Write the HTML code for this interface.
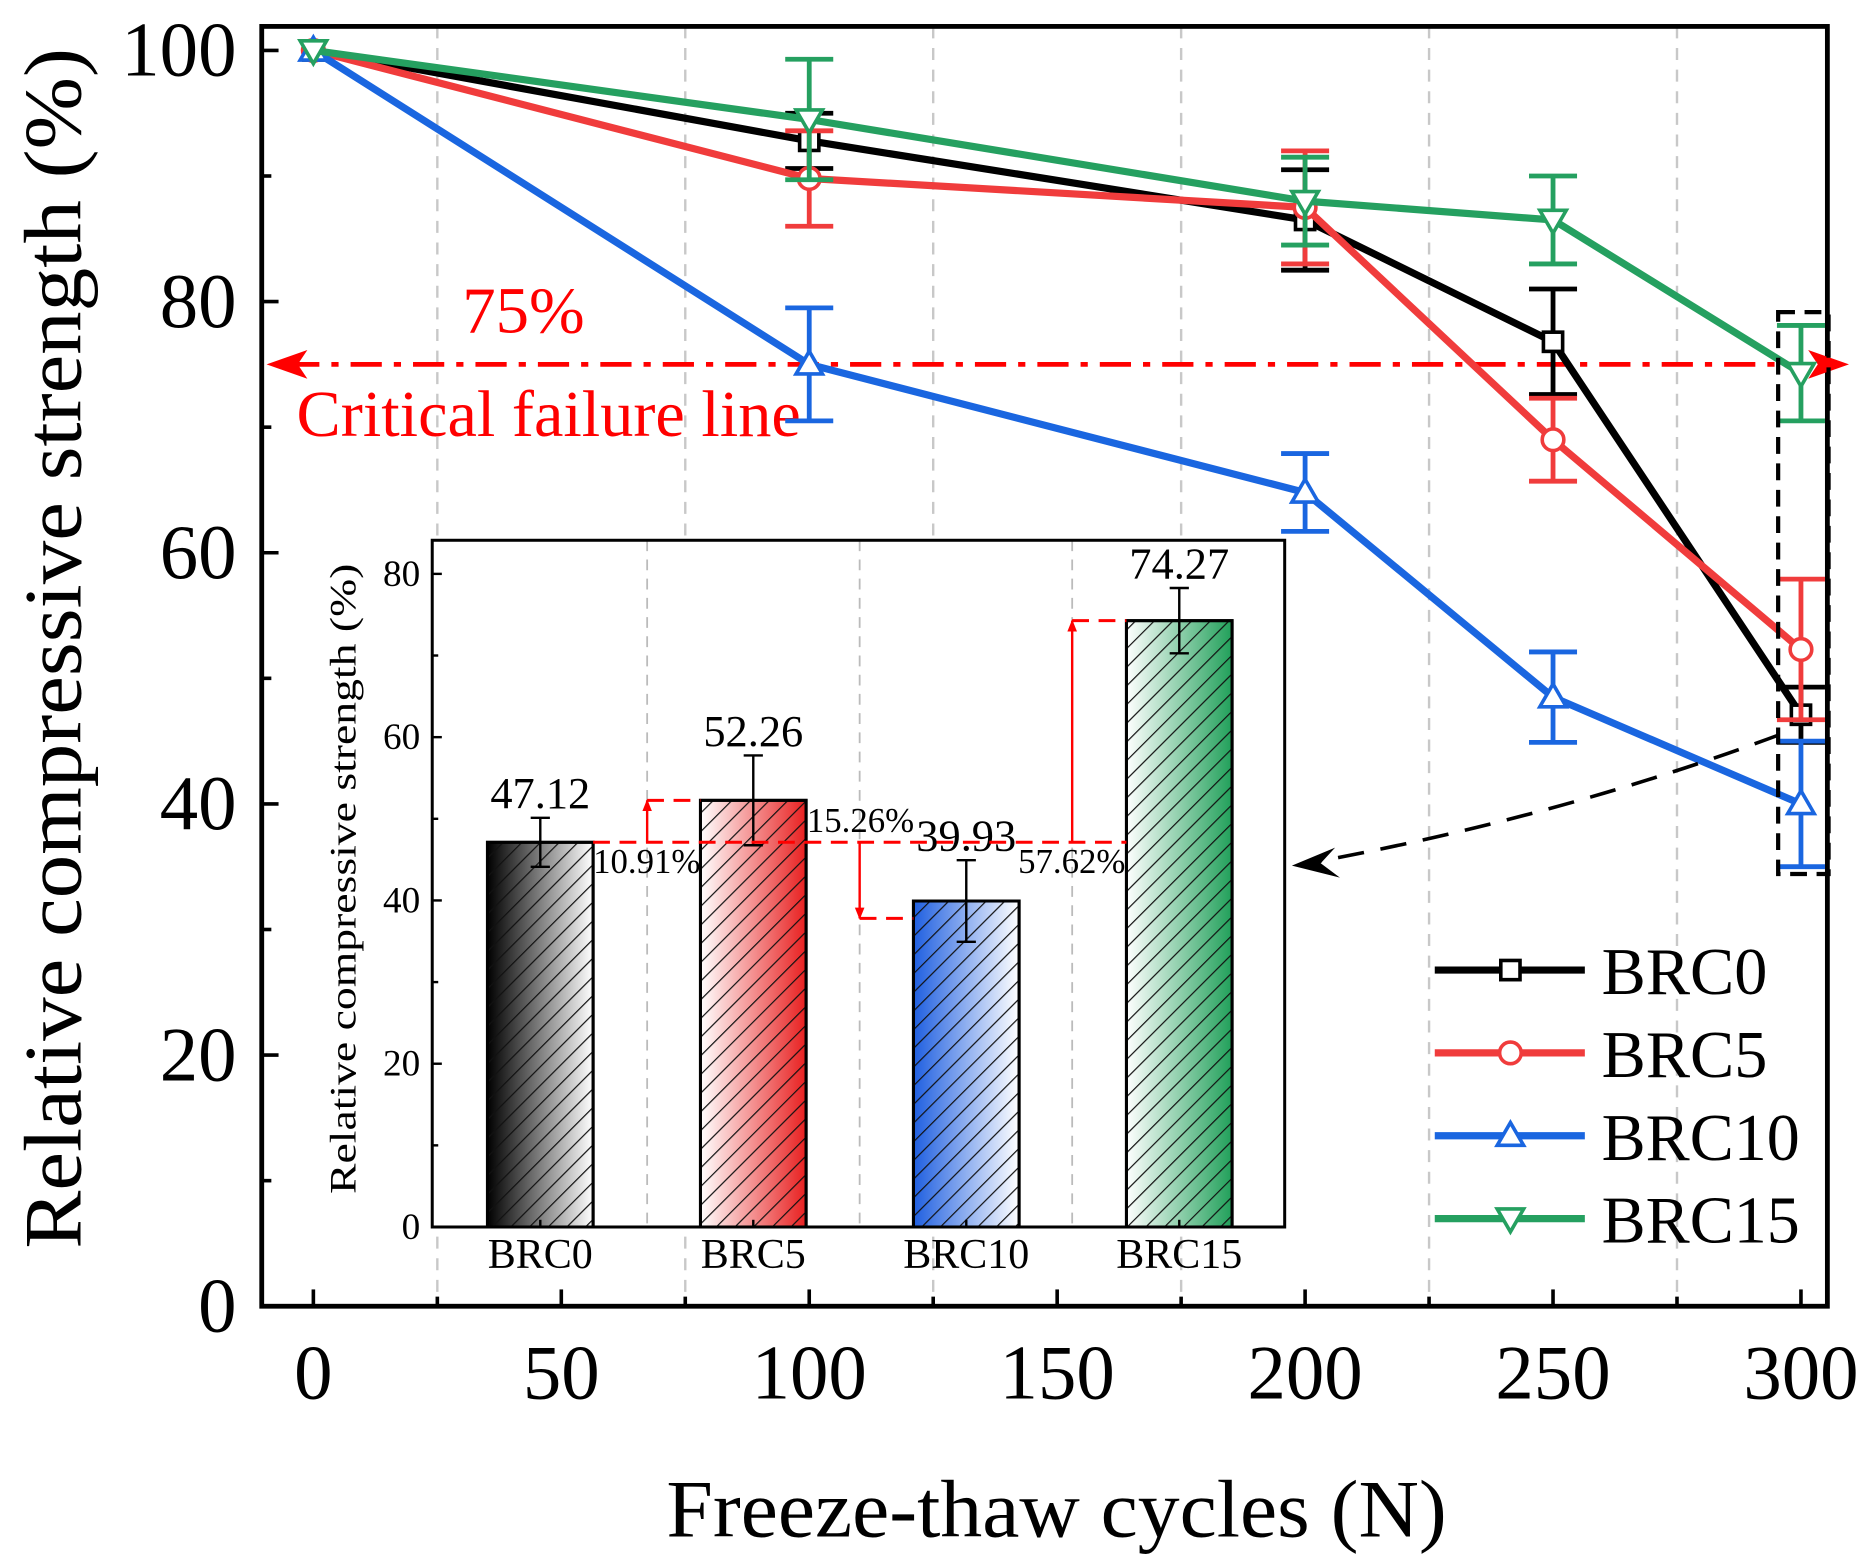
<!DOCTYPE html>
<html><head><meta charset="utf-8"><style>
html,body{margin:0;padding:0;background:#fff;}
svg{display:block;font-family:"Liberation Serif",serif;}
</style></head><body>
<svg id="chart" width="1873" height="1564" viewBox="0 0 1560 1302.7" preserveAspectRatio="none" xmlns="http://www.w3.org/2000/svg">
<defs>
<linearGradient id="g0" x1="0" x2="1"><stop offset="0" stop-color="#000"/><stop offset="1" stop-color="#fff"/></linearGradient>
<linearGradient id="g1" x1="0" x2="1"><stop offset="0" stop-color="#fff"/><stop offset="1" stop-color="#e82020"/></linearGradient>
<linearGradient id="g2" x1="0" x2="1"><stop offset="0" stop-color="#1f5fe0"/><stop offset="1" stop-color="#fff"/></linearGradient>
<linearGradient id="g3" x1="0" x2="1"><stop offset="0" stop-color="#fff"/><stop offset="1" stop-color="#21a05a"/></linearGradient>
<pattern id="hatch" width="11" height="11" patternUnits="userSpaceOnUse" patternTransform="rotate(45)"><line x1="0" y1="0" x2="0" y2="11" stroke="#111" stroke-width="2"/></pattern>
<marker id="arrR" markerWidth="10" markerHeight="10" refX="9" refY="5" orient="auto" markerUnits="userSpaceOnUse"><path d="M0,1 L10,5 L0,9 Z" fill="red"/></marker>
</defs>
<g id="main"></g>
<g id="inset"></g>
</svg>
<script>
const cycles=[0,100,200,250,300];
const brc0=[100,92.8,86.5,76.8,47.1];
const brc0Err=[0,2.2,4,4.2,2.2];
const brc5=[100,89.8,87.5,69,52.3];
const brc5Err=[0,3.8,4.5,3.3,5.6];
const brc10=[100,75,64.8,48.5,40];
const brc10Err=[0,4.5,3.1,3.6,5];
const brc15=[100,94.5,88,86.5,74.3];
const brc15Err=[0,4.8,3.5,3.5,3.8];
const xTicks=[0,50,100,150,200,250,300];
const yTicks=[0,20,40,60,80,100];
const barCats=['BRC0','BRC5','BRC10','BRC15'];
const barVals=[47.12,52.26,39.93,74.27];
const barErr=[3,5.5,5,4];
const barPct=['10.91%','15.26%','','57.62%'];
const insetTicks=[0,20,40,60,80];
const critical=75;

const NS='http://www.w3.org/2000/svg';
function mk(parent,tag,attrs,text){const e=document.createElementNS(NS,tag);for(const k in attrs)e.setAttribute(k,attrs[k]);if(text!==undefined)e.textContent=text;parent.appendChild(e);return e;}
const X=v=>261+v*(1500-261)/300;
const Y=v=>1088-v*(1088-42)/100;
const main=document.getElementById('main');
const L=218,R=1522,T=22,B=1088;
[25,75,125,175,225,275].forEach(v=>{const g=mk(main,'line',{x1:X(v),x2:X(v),y1:T,y2:B,stroke:'#c8c8c8','stroke-width':2,'stroke-dasharray':'10,8'});

});
const fr=mk(main,'rect',{x:L,y:T,width:R-L,height:B-T,fill:'none',stroke:'#000','stroke-width':4});


xTicks.forEach(v=>{mk(main,'line',{x1:X(v),x2:X(v),y1:B,y2:B-14,stroke:'#000','stroke-width':3});
const t=mk(main,'text',{x:X(v),y:1165,'font-size':64,'text-anchor':'middle'},v);

});
[25,75,125,175,225,275].forEach(v=>mk(main,'line',{x1:X(v),x2:X(v),y1:B,y2:B-8,stroke:'#000','stroke-width':3}));
yTicks.forEach(v=>{mk(main,'line',{x1:L,x2:L+14,y1:Y(v),y2:Y(v),stroke:'#000','stroke-width':3});
const t=mk(main,'text',{x:197,y:Y(v)+21,'font-size':64,'text-anchor':'end'},v);

});
[10,30,50,70,90].forEach(v=>mk(main,'line',{x1:L,x2:L+8,y1:Y(v),y2:Y(v),stroke:'#000','stroke-width':3}));
const xt=mk(main,'text',{x:880,y:1280,'font-size':68,'text-anchor':'middle',textLength:650,lengthAdjust:'spacingAndGlyphs'},'Freeze-thaw cycles (N)');


const yt=mk(main,'text',{x:0,y:0,'font-size':68,'text-anchor':'middle',textLength:1000,lengthAdjust:'spacingAndGlyphs',transform:'translate(67,540) rotate(-90)'},'Relative compressive strength (%)');


const cy=Y(critical);
const cl=mk(main,'line',{x1:240,x2:1505,y1:cy,y2:cy,stroke:'red','stroke-width':4,'stroke-dasharray':'26,10,6,10'});


mk(main,'path',{d:`M222,${cy} L256,${cy-12} L248,${cy} L256,${cy+12} Z`,fill:'red'});
mk(main,'path',{d:`M1540,${cy} L1506,${cy-12} L1514,${cy} L1506,${cy+12} Z`,fill:'red'});
const t75=mk(main,'text',{x:385,y:277,'font-size':55,fill:'red',textLength:102,lengthAdjust:'spacingAndGlyphs'},'75%');


const tcf=mk(main,'text',{x:247,y:363,'font-size':55,fill:'red',textLength:420,lengthAdjust:'spacingAndGlyphs'},'Critical failure line');


const series=[[brc0,brc0Err,'#000','sq','BRC0'],[brc5,brc5Err,'#f03c3c','ci','BRC5'],[brc10,brc10Err,'#1a66e0','up','BRC10'],[brc15,brc15Err,'#25a060','dn','BRC15']];
function marker(g,x,y,type,col){
 let e;
 if(type==='sq')e=mk(g,'rect',{x:x-8,y:y-8,width:16,height:16,fill:'#fff',stroke:col,'stroke-width':3});
 else if(type==='ci')e=mk(g,'circle',{cx:x,cy:y,r:9,fill:'#fff',stroke:col,'stroke-width':3});
 else if(type==='up')e=mk(g,'path',{d:`M${x},${y-11} L${x+11},${y+8} L${x-11},${y+8} Z`,fill:'#fff',stroke:col,'stroke-width':3});
 else e=mk(g,'path',{d:`M${x},${y+11} L${x+11},${y-8} L${x-11},${y-8} Z`,fill:'#fff',stroke:col,'stroke-width':3});
 return e;
}
series.forEach(([vals,errs,col,type,name])=>{
 const g=mk(main,'g',{});
 
 
 const pl=mk(g,'polyline',{points:vals.map((v,i)=>X(cycles[i])+','+Y(v)).join(' '),fill:'none',stroke:col,'stroke-width':6,'stroke-linejoin':'round'});
 
 
 vals.forEach((v,i)=>{const x=X(cycles[i]);
  if(errs[i]>0){const hi=Y(v+errs[i]),lo=Y(v-errs[i]);
   const eb=mk(g,'path',{d:`M${x},${hi} V${lo} M${x-20},${hi} H${x+20} M${x-20},${lo} H${x+20}`,stroke:col,'stroke-width':4,fill:'none'});
   
   }
 });
 vals.forEach((v,i)=>{const m=marker(g,X(cycles[i]),Y(v),type,col);
  
  });
});
const db=mk(main,'rect',{x:1481,y:260,width:42,height:468,fill:'none',stroke:'#000','stroke-width':3.5,'stroke-dasharray':'14,8'});


const ca=mk(main,'path',{d:'M1482,612 Q1300,680 1095,718',fill:'none',stroke:'#000','stroke-width':3,'stroke-dasharray':'22,14'});


mk(main,'path',{d:'M1076,721 L1112,706 L1100,719 L1116,731 Z',fill:'#000'});
const leg=mk(main,'g',{});


const legW=[138,138,165,165];
series.forEach(([v,e,col,type,name],i)=>{const y=808+i*69;
 const g=mk(leg,'g',{});
 
 
 mk(g,'line',{x1:1195,x2:1320,y1:y,y2:y,stroke:col,'stroke-width':6});
 marker(g,1258,y,type,col);
 mk(g,'text',{x:1334,y:y+20,'font-size':56,textLength:legW[i],lengthAdjust:'spacingAndGlyphs'},name);
});
const ins=document.getElementById('inset');
const IL=360,IR=1070,IT=450,IB=1022;
const IY=v=>IB-v*(IB-478)/80;
const IX=i=>450+i*177.4;
mk(ins,'rect',{x:IL,y:IT,width:IR-IL,height:IB-IT,fill:'#fff',stroke:'none'});
[539,716,893].forEach(x=>{const g=mk(ins,'line',{x1:x,x2:x,y1:IT,y2:IB,stroke:'#bbb','stroke-width':1.5,'stroke-dasharray':'9,7'});

});
const iframe=mk(ins,'rect',{x:IL,y:IT,width:IR-IL,height:IB-IT,fill:'none',stroke:'#000','stroke-width':2.5});


insetTicks.forEach(v=>{mk(ins,'line',{x1:IL,x2:IL+8,y1:IY(v),y2:IY(v),stroke:'#000','stroke-width':2});
const t=mk(ins,'text',{x:350,y:IY(v)+10,'font-size':31,'text-anchor':'end'},v);

});
[10,30,50,70].forEach(v=>mk(ins,'line',{x1:IL,x2:IL+5,y1:IY(v),y2:IY(v),stroke:'#000','stroke-width':2}));
const iyt=mk(ins,'text',{x:0,y:0,'font-size':31,'text-anchor':'middle',textLength:525,lengthAdjust:'spacingAndGlyphs',transform:'translate(296,732) rotate(-90)'},'Relative compressive strength (%)');


const grads=['g0','g1','g2','g3'];
barVals.forEach((v,i)=>{const cx=IX(i),w=88,top=IY(v);
 const b=mk(ins,'rect',{x:cx-w/2,y:top,width:w,height:IB-top,fill:'url(#'+grads[i]+')',stroke:'#000','stroke-width':2.5});
 
 
 mk(ins,'rect',{x:cx-w/2,y:top,width:w,height:IB-top,fill:'url(#hatch)',stroke:'#000','stroke-width':2.5});
 const hi=IY(v+barErr[i]),lo=IY(v-barErr[i]);
 const eb=mk(ins,'path',{d:`M${cx},${hi} V${lo} M${cx-8},${hi} H${cx+8} M${cx-8},${lo} H${cx+8}`,stroke:'#000','stroke-width':2,fill:'none'});
 
 
 const vl=mk(ins,'text',{x:cx,y:hi-8,'font-size':37,'text-anchor':'middle'},v.toFixed(2));
 
 
 const cl=mk(ins,'text',{x:cx,y:1056,'font-size':35,'text-anchor':'middle'},barCats[i]);
 
 
 mk(ins,'line',{x1:cx,x2:cx,y1:IB,y2:IB-6,stroke:'#000','stroke-width':2});
});
const by=IY(barVals[0]);
const ra=mk(ins,'g',{});


mk(ra,'line',{x1:IX(0)+44,x2:IX(3)-44,y1:by,y2:by,stroke:'red','stroke-width':2.5,'stroke-dasharray':'14,8'});
const ann=[[539,barVals[1],IX(1)-44],[716,37.8,IX(2)-44],[893,barVals[3],IX(3)-44]];
ann.forEach(([x,v,x2])=>{const y=IY(v);
 mk(ra,'line',{x1:x,x2:x2,y1:y,y2:y,stroke:'red','stroke-width':2.5,'stroke-dasharray':'14,8'});
 mk(ra,'line',{x1:x,x2:x,y1:by,y2:y,stroke:'red','stroke-width':2,'marker-end':'url(#arrR)'});
});
[[494,727,barPct[0]],[672,693,barPct[1]],[848,727,barPct[3]]].forEach(([x,y,s])=>{
 const t=mk(ra,'text',{x:x,y:y,'font-size':29},s);
 
 
});
</script>
</body></html>
